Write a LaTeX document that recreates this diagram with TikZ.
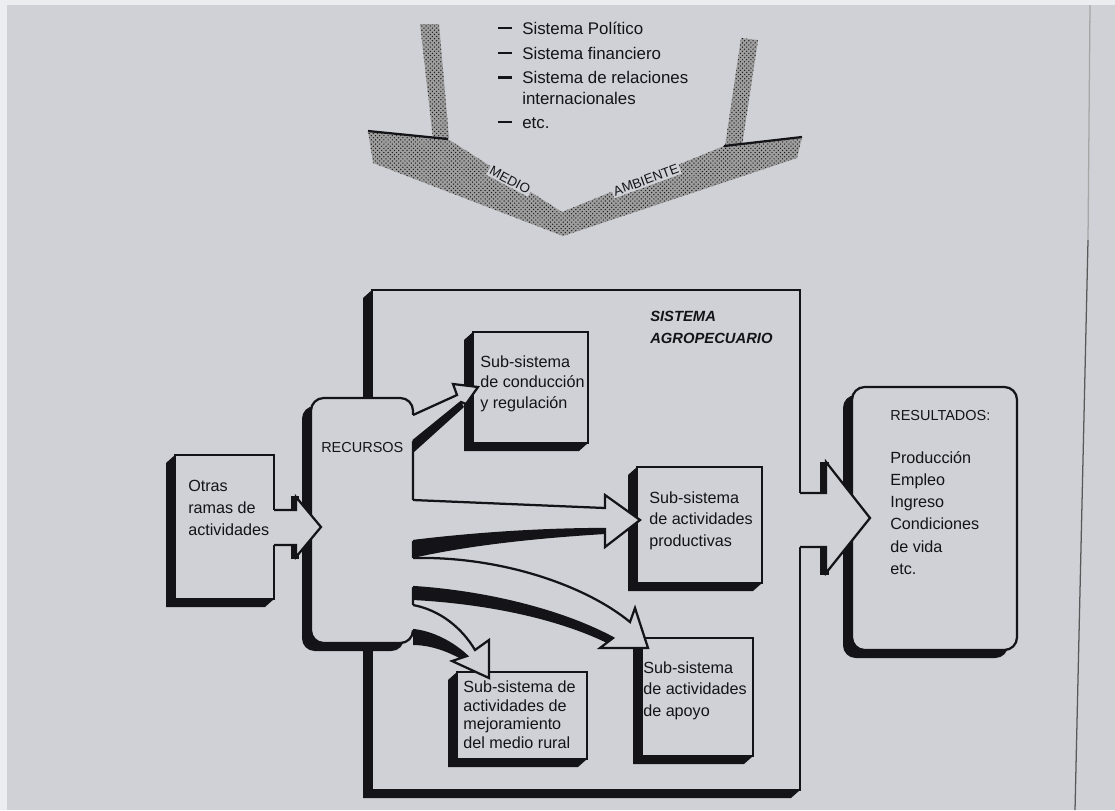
\documentclass[tikz,border=0pt]{standalone}
\usepackage{fontspec}
\setmainfont{Liberation Sans}
\usetikzlibrary{patterns,calc}
\definecolor{paper}{RGB}{207,209,214}
\definecolor{ink}{RGB}{20,20,24}
\definecolor{margin}{RGB}{236,237,240}

\newcommand\dashmark{\makebox[0.6cm][l]{\rule[0.27em]{0.34cm}{1.9pt}}}
\newcommand\sqbox[5]{%
  \fill[ink] (#2,#3) -- (#2-9,#3+8) -- (#2-9,#5+8) -- (#4-9,#5+8) -- (#4,#5) -- cycle;
  \node[box, minimum width={(#4-#2)*0.025cm}, minimum height={(#5-#3)*0.025cm}] (#1) at (#2,#3) {};}
\newcommand\rdbox[5]{%
  \fill[ink,rounded corners=9pt] (#2-9,#3+8) rectangle (#4-9,#5+8);
  \node[rbox, minimum width={(#4-#2)*0.025cm}, minimum height={(#5-#3)*0.025cm}] (#1) at (#2,#3) {};}

\begin{document}
\begin{tikzpicture}[x=0.025cm,y=-0.025cm,line join=miter,
  ln/.style={draw=ink,line width=1.6pt},
  box/.style={ln,fill=paper,rectangle,inner sep=0pt,outer sep=0pt,anchor=north west},
  rbox/.style={box,rounded corners=9pt},
  t/.style={anchor=north west,inner sep=0pt,align=left,text=ink,font=\fontsize{11.5}{15.3}\selectfont},
  capt/.style={anchor=west,inner sep=0pt,text=ink,font=\fontsize{10.3}{14}\selectfont},
  lst/.style={anchor=base west,inner sep=0pt,text=ink,font=\fontsize{12}{14}\selectfont},
  stip/.style={fill=black!38, postaction={pattern=crosshatch dots, pattern color=black!90}},
  env/.style={inner sep=1.2pt,fill=paper,text=ink,font=\fontsize{9.5}{11}\selectfont}]

% background
\fill[paper] (0,0) rectangle (1115,810);
\fill[margin] (0,0) rectangle (1115,5);
\fill[margin] (0,0) rectangle (7,810);
\draw[black!35,line width=0.9pt] (1090,5) -- (1088,240);
\draw[black!65,line width=0.9pt] (1088,240) -- (1075,810);
\useasboundingbox (0,0) rectangle (1115,810);

% environment chevron
\path[stip] (420,24) -- (439,24) -- (449,138) -- (433,139) -- cycle;
\path[stip] (741,38) -- (758,40) -- (742,146) -- (725,146) -- cycle;
\path[stip] (368,131) -- (448,139) -- (562,212) -- (724,146) -- (802,137) -- (797,158) -- (563,236) -- (373,163) -- cycle;
\draw[ink,line width=1.6pt] (368,131) -- (448,139);
\draw[ink,line width=1.6pt] (724,146) -- (802,137);
\node[env,rotate=-28] (medio) at (510,180) {MEDIO};
\node[env,rotate=20] (amb) at (646,180) {AMBIENTE};

\node[lst] (l1) at (498,34) {\dashmark Sistema Político};
\node[lst] (l2) at (498,59) {\dashmark Sistema financiero};
\node[lst] (l3) at (498,83.5) {\dashmark Sistema de relaciones};
\node[lst] (l4) at (522,104) {internacionales};
\node[lst] (l5) at (498,128) {\dashmark etc.};

% system box
\sqbox{sys}{372}{290}{800}{790}
\node[t,font=\fontsize{10.5}{15.6}\selectfont\bfseries\itshape] (tsys) at (650,311) {SISTEMA\\AGROPECUARIO};

% results
\rdbox{res}{852}{387}{1017}{650}
\node[capt] (tres) at (890,416) {RESULTADOS:};
\node[t,font=\fontsize{11.5}{15.8}\selectfont] (tresl) at (890,451) {Producción\\Empleo\\Ingreso\\Condiciones\\de vida\\etc.};

% output arrow
\fill[ink] (820,462) rectangle (829,575);
\fill[paper] (794,493) -- (826,493) -- (826,462) -- (870,518) -- (826,573) -- (826,547) -- (794,547) -- cycle;
\draw[ln] (sys.east |- 0,493) -- (826,493) -- (826,462) -- (870,518) -- (826,573) -- (826,547) -- (sys.east |- 0,547);

% other boxes
\sqbox{otras}{175}{455}{274}{599}
\node[t,font=\fontsize{11.5}{15.6}\selectfont] (totras) at (188,480) {Otras\\ramas de\\actividades};

\sqbox{cond}{473}{332}{588}{443}
\node[t,font=\fontsize{11.5}{14.9}\selectfont] (tcond) at (480,355) {Sub-sistema\\de conducción\\y regulación};

\sqbox{prod}{637}{467}{762}{583}
\node[t] (tprod) at (649,491) {Sub-sistema\\de actividades\\productivas};

\sqbox{apoyo}{642}{638}{753}{756}
\node[t] (tapoyo) at (643,661) {Sub-sistema\\de actividades\\de apoyo};

\sqbox{mejor}{457}{672}{587}{759}
\node[t,font=\fontsize{11.5}{13.5}\selectfont] (tmej) at (463,680) {Sub-sistema de\\actividades de\\mejoramiento\\del medio rural};

% resources
\rdbox{rec}{311}{398}{413}{643}
\node[capt] (trec) at (321,447) {RECURSOS};

% arrow shadows
\fill[ink] (413,441) -- (461,402) -- (464,407) -- (413,453) -- cycle;
\fill[ink] (413,541) .. controls (470,534) and (540,529) .. (605,529) -- (605,534) .. controls (540,538) and (470,545) .. (413,558) -- cycle;
\fill[ink] (413,587) .. controls (490,592) and (565,612) .. (613,638) -- (607,643) .. controls (560,620) and (490,604) .. (413,600) -- cycle;
\fill[ink] (413,630) .. controls (432,632) and (452,642) .. (467,656) -- (461,659) .. controls (445,650) and (428,645) .. (413,645) -- cycle;

% arrow to conduccion
\fill[paper] (404,415) -- (413,415) -- (457,395) -- (453,384) -- (478,387) -- (466,404) -- (461,402) -- (413,441) -- (404,441) -- cycle;
\draw[ln] (413,415) -- (457,395) -- (453,384) -- (478,387) -- (466,404) -- (461,402) -- (413,441);

% arrow to productivas
\fill[paper] (404,500) -- (413,500) -- (605,508) -- (605,495) -- (640,520) -- (605,547) -- (605,529) .. controls (540,529) and (470,534) .. (413,541) -- (404,541) -- cycle;
\draw[ln] (413,500) -- (605,508) -- (605,495) -- (640,520) -- (605,547) -- (605,529) .. controls (540,529) and (470,534) .. (413,541);

% arrow to apoyo
\fill[paper] (404,558) -- (413,558) .. controls (500,556) and (585,585) .. (630,622) -- (635,608) -- (648,648) -- (600,648) -- (613,638) .. controls (565,612) and (490,592) .. (413,587) -- (404,587) -- cycle;
\draw[ln] (413,558) .. controls (500,556) and (585,585) .. (630,622) -- (635,608) -- (648,648) -- (600,648) -- (613,638) .. controls (565,612) and (490,592) .. (413,587);

% arrow to mejoramiento
\fill[paper] (404,605) -- (413,605) .. controls (440,610) and (462,628) .. (475,650) -- (489,640) -- (489,678) -- (452,661) -- (467,656) .. controls (452,642) and (432,632) .. (413,630) -- (404,630) -- cycle;
\draw[ln] (413,605) .. controls (440,610) and (462,628) .. (475,650) -- (489,640) -- (489,678) -- (452,661) -- (467,656) .. controls (452,642) and (432,632) .. (413,630);

% arrow from otras
\fill[ink] (291,496) rectangle (299,512);
\fill[ink] (291,543) rectangle (299,559);
\fill[paper] (270,510) -- (296,510) -- (296,497) -- (321,527) -- (296,557) -- (296,545) -- (270,545) -- cycle;
\draw[ln] (otras.east |- 0,510) -- (296,510) -- (296,497) -- (321,527) -- (296,557) -- (296,545) -- (otras.east |- 0,545);
\end{tikzpicture}
\end{document}
